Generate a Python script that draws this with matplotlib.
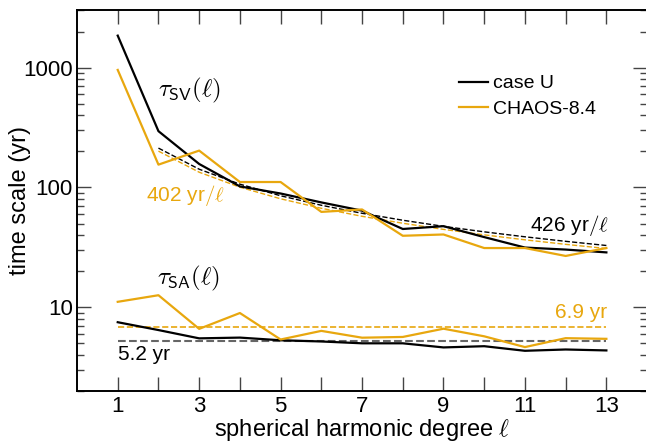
import matplotlib
matplotlib.use("Agg")
import matplotlib.pyplot as plt
import numpy as np
from matplotlib.ticker import FixedLocator, LogLocator, NullFormatter, FuncFormatter

plt.rcParams["font.family"] = ["Liberation Sans", "DejaVu Sans"]
plt.rcParams["mathtext.fontset"] = "cm"

# spherical harmonic degree
degree = np.arange(1, 14)

# secular variation time scales (yr)
tau_sv_case_u = [1850, 295, 157, 102, 89, 75, 64, 45, 47.5, 38.5, 31.5, 30.3, 28.7]
tau_sv_chaos = [957, 155, 203, 111, 111, 62.5, 65.5, 39.5, 40.5, 31.2, 31.2, 26.8, 31.2]

# secular acceleration time scales (yr)
tau_sa_case_u = [7.5, 6.45, 5.5, 5.58, 5.3, 5.18, 5.0, 5.0, 4.62, 4.73, 4.33, 4.44, 4.36]
tau_sa_chaos = [11.1, 12.6, 6.6, 8.95, 5.38, 6.35, 5.57, 5.65, 6.62, 5.72, 4.65, 5.52, 5.45]

# fits
sv_fit_case_u = 426.0
sv_fit_chaos = 402.0
sa_mean_case_u = 5.2
sa_mean_chaos = 6.9

black = "#000000"
gold = "#E8A70E"

fig = plt.figure(figsize=(6.46, 4.44), dpi=100)
ax = fig.add_axes([0.1192, 0.1194, 0.8825, 0.857])

fit_deg = degree[1:]
ax.plot(fit_deg, sv_fit_case_u / fit_deg, ls="--", color=black, lw=1.0, zorder=2)
ax.plot(fit_deg, sv_fit_chaos / fit_deg, ls="--", color=gold, lw=1.0, zorder=2)
ax.plot([degree[0], degree[-1]], [sa_mean_chaos] * 2, ls="--", color=gold, lw=1.2, zorder=2)
ax.plot([degree[0], degree[-1]], [sa_mean_case_u] * 2, ls="--", color="#666666", lw=1.5, zorder=2)

ax.plot(degree, tau_sv_case_u, color=black, lw=1.6, label="case U", zorder=3)
ax.plot(degree, tau_sv_chaos, color=gold, lw=1.6, label="CHAOS-8.4", zorder=3)
ax.plot(degree, tau_sa_case_u, color=black, lw=1.6, zorder=3)
ax.plot(degree, tau_sa_chaos, color=gold, lw=1.6, zorder=3)

ax.set_yscale("log")
ax.set_xlim(0, 14)
ax.set_ylim(2, 3000)

ax.xaxis.set_major_locator(FixedLocator(degree))
ax.set_xticklabels([str(d) if d % 2 == 1 else "" for d in degree])
ax.yaxis.set_major_locator(LogLocator(base=10, numticks=10))
ax.yaxis.set_minor_locator(LogLocator(base=10, subs=np.arange(2, 10), numticks=20))
ax.yaxis.set_major_formatter(FuncFormatter(lambda v, p: f"{v:g}"))
ax.yaxis.set_minor_formatter(NullFormatter())

ax.tick_params(which="both", direction="in", top=True, right=True, labelsize=16, width=1.0, color="#444444")
ax.tick_params(which="major", length=10)
ax.tick_params(which="minor", length=5)
ax.tick_params(axis="y", pad=3)
for spine in ax.spines.values():
    spine.set_linewidth(1.4)

ax.set_xlabel(r"spherical harmonic degree $\ell$", fontsize=17, labelpad=0)
ax.set_ylabel("time scale (yr)", fontsize=17)
ax.yaxis.set_label_coords(-0.08, 0.5)

ax.text(2.0, 640, r"$\tau_{\mathsf{SV}}(\ell)$", fontsize=18, ha="left", va="center", color=black)
ax.text(1.69, 86, r"402 yr$/\ell$", fontsize=15, ha="left", va="center", color=gold)
ax.text(13.05, 48.5, r"426 yr$/\ell$", fontsize=15, ha="right", va="center", color=black)
ax.text(1.97, 17.3, r"$\tau_{\mathsf{SA}}(\ell)$", fontsize=18, ha="left", va="center", color=black)
ax.text(1.0, 4.0, "5.2 yr", fontsize=15, ha="left", va="center", color=black)
ax.text(13.03, 9.0, "6.9 yr", fontsize=15, ha="right", va="center", color=gold)

ax.legend(loc="upper left", bbox_to_anchor=(0.64, 0.877), frameon=False, fontsize=14,
          handlelength=1.45, handletextpad=0.3, labelspacing=0.4)

fig.savefig("out.png", dpi=100)
